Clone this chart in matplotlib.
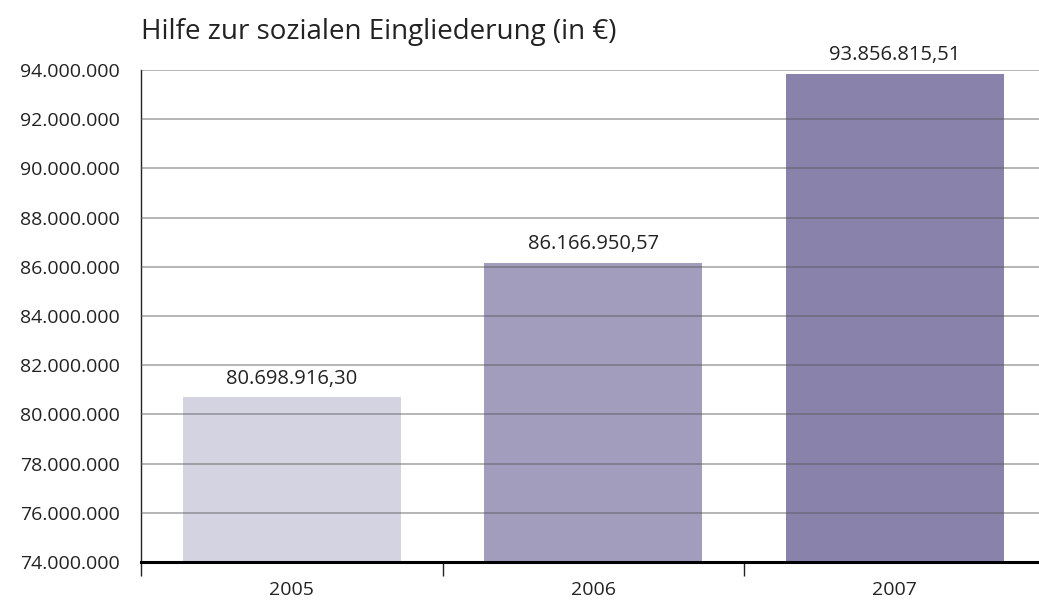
import matplotlib
matplotlib.use("Agg")
import matplotlib.pyplot as plt
from matplotlib.ticker import FuncFormatter, FixedLocator

years = ["2005", "2006", "2007"]
values = [80698916.30, 86166950.57, 93856815.51]
value_labels = ["80.698.916,30", "86.166.950,57", "93.856.815,51"]
colors = ["#d4d3e2", "#a29cbd", "#8982ab"]
yticks = list(range(74000000, 94000001, 2000000))

plt.rcParams['font.family'] = ['Open Sans', 'DejaVu Sans']

fig = plt.figure(figsize=(10.39, 6.03), dpi=100)
ax = fig.add_axes([141/1039, 1 - 562/603, (1045.5 - 141)/1039, (562 - 70)/603])

x = list(range(len(years)))
ax.bar(x, values, width=0.723, color=colors, zorder=2, edgecolor="none")
ax.set_ylim(74000000, 94000000)
ax.set_xlim(-0.5, 2.5)

for yv in yticks:
    ax.axhline(yv, color="#555555", alpha=0.5, lw=1.2, zorder=3)

ax.yaxis.set_major_locator(FixedLocator(yticks))
ax.yaxis.set_major_formatter(FuncFormatter(lambda v, p: f"{int(v):,}".replace(",", ".")))
ax.tick_params(axis="y", length=0, pad=15, labelsize=14, labelcolor="#222222")

ax.set_xticks(x)
ax.set_xticklabels(years)
ax.set_xticks([-0.5, 0.5, 1.5, 2.5], minor=True)
ax.tick_params(axis="x", which="major", length=0, pad=14, labelsize=14, labelcolor="#222222")
ax.tick_params(axis="x", which="minor", length=10, width=1, color="#222222", direction="out")

for s in ["top", "right"]:
    ax.spines[s].set_visible(False)
ax.spines["left"].set_color("#222222")
ax.spines["left"].set_linewidth(1)
ax.spines["bottom"].set_color("#000000")
ax.spines["bottom"].set_linewidth(2.2)
ax.spines["bottom"].set_zorder(4)

for xi, v, lab in zip(x, values, value_labels):
    ax.annotate(lab, (xi, v), xytext=(0, 6), textcoords="offset points",
                ha="center", va="bottom", fontsize=14.5, color="#222222")

fig.text(141/1039, 1 - 32/603, "Hilfe zur sozialen Eingliederung (in €)",
         fontsize=20, color="#222222", ha="left", va="center")

fig.savefig("out.png", dpi=100)
